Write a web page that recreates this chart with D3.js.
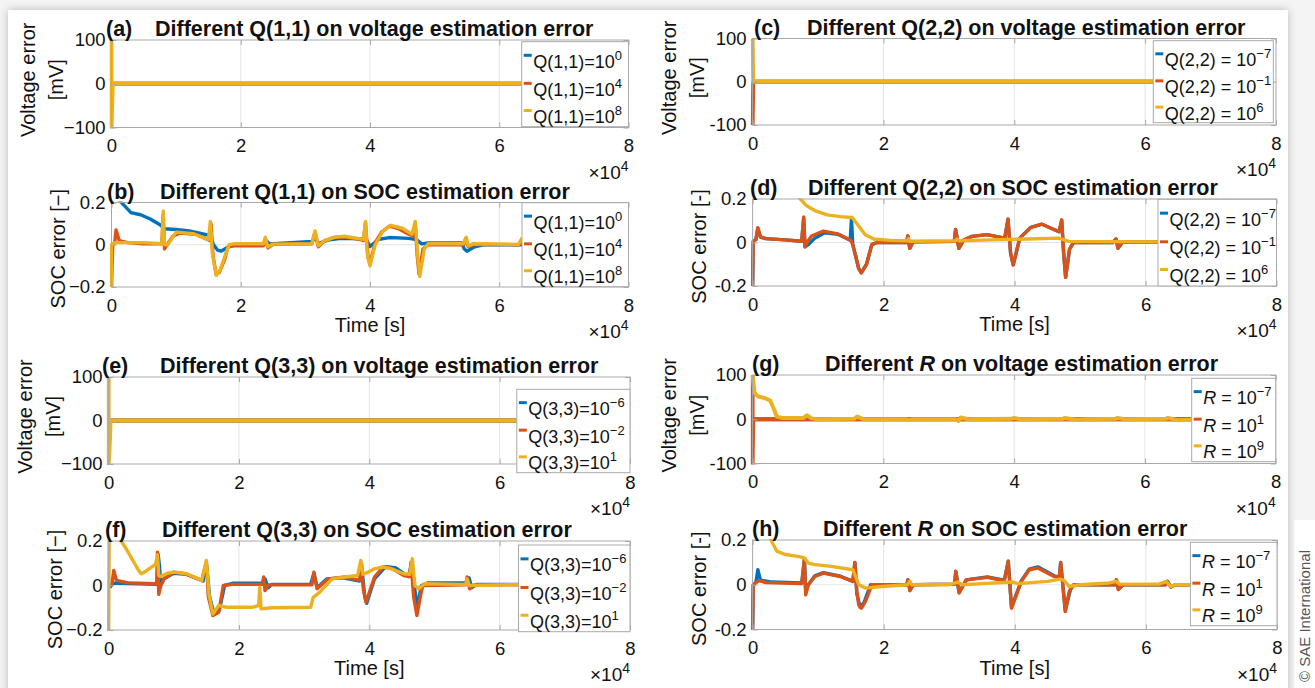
<!DOCTYPE html>
<html>
<head>
<meta charset="utf-8">
<script src="https://cdn.jsdelivr.net/npm/d3@7"></script>
<style>
  body { margin: 0; background: #f4f4f4; }
  svg { display: block; }
  text { font-family: "Liberation Sans", Arial, Helvetica, sans-serif; fill: #111; }
</style>
</head>
<body>
<svg id="fig" width="1315" height="688"></svg>
<script>
// ---- ticks and labels ----
const xTicks = [0, 2, 4, 6, 8];
const voltTicks = [-100, 0, 100];
const socTicks = [-0.2, 0, 0.2];
const voltTickLabelsL = ['\u2212100', '0', '100'];
const voltTickLabelsR = ['-100', '0', '100'];
const socTickLabelsL = ['\u22120.2', '0', '0.2'];
const socTickLabelsR = ['-0.2', '0', '0.2'];
const seriesColors = ['#0072BD', '#D95319', '#EDB120'];

const legQ11 = ['Q(1,1)=10^0', 'Q(1,1)=10^4', 'Q(1,1)=10^8'];
const legQ22 = ['Q(2,2) = 10^\u22127', 'Q(2,2) = 10^\u22121', 'Q(2,2) = 10^6'];
const legQ33 = ['Q(3,3)=10^\u22126', 'Q(3,3)=10^\u22122', 'Q(3,3)=10^1'];
const legR = ['R = 10^\u22127', 'R = 10^1', 'R = 10^9'];

// ---- data: time in 1e4 s ----
// (a) voltage error [mV], Q(1,1)
const voltA_1e0 = [[0, 0], [6.4, 0]];
const voltA_1e4 = [[0, 0], [6.4, 0]];
const voltA_1e8 = [[0, 100], [0, -100], [0.02, 0], [6.4, 0]];

// (b) SOC error, Q(1,1)
const socB_1e0 = [[0,0.2],[0.06,0.24],[0.12,0.21],[0.2,0.185],[0.3,0.152],[0.45,0.142],[0.6,0.122],[0.75,0.095],[0.82,0.076],[1.0,0.072],[1.2,0.065],[1.4,0.052],[1.52,0.044],[1.58,0.0],[1.64,-0.025],[1.7,-0.03],[1.8,-0.012],[1.92,0.004],[2.35,0.005],[2.4,0.018],[2.45,0.004],[3.1,0.016],[3.15,0.034],[3.2,0.006],[3.35,0.022],[3.55,0.03],[3.9,0.028],[3.95,0.02],[4.0,-0.008],[4.14,0.026],[4.3,0.034],[4.6,0.03],[4.72,0.024],[4.8,0.004],[4.9,0.008],[5.42,0.008],[5.46,-0.02],[5.5,-0.031],[5.62,-0.01],[5.75,0.0],[6.4,0.0]];
const socB_1e4 = [[0,-0.2],[0.02,0.0],[0.05,0.01],[0.07,0.07],[0.12,0.02],[0.25,0.01],[0.5,0.005],[0.78,0.005],[0.8,0.14],[0.82,-0.02],[0.86,0.0],[0.95,0.04],[1.05,0.055],[1.3,0.05],[1.45,0.03],[1.52,0.02],[1.54,0.1],[1.57,-0.05],[1.62,-0.14],[1.67,-0.13],[1.75,-0.07],[1.8,-0.01],[1.9,-0.005],[2.35,-0.005],[2.38,0.03],[2.42,-0.015],[2.5,0.002],[3.1,0.005],[3.15,0.06],[3.2,-0.01],[3.3,0.02],[3.45,0.035],[3.6,0.038],[3.85,0.025],[3.9,0.02],[3.93,0.105],[3.97,-0.06],[4.0,-0.09],[4.08,0.01],[4.18,0.06],[4.3,0.088],[4.45,0.075],[4.6,0.05],[4.68,0.04],[4.7,0.105],[4.73,-0.05],[4.76,-0.14],[4.82,-0.02],[4.9,0.0],[5.45,0.0],[5.48,0.03],[5.52,-0.01],[5.6,0.002],[6.3,0.0],[6.35,0.025],[6.4,0.0]];
const socB_1e8 = [[0,-0.2],[0,0.0],[0.05,0.01],[0.5,0.01],[0.78,0.005],[0.8,0.16],[0.82,0.0],[0.87,0.0],[1.0,0.06],[1.27,0.052],[1.45,0.03],[1.5,0.025],[1.53,0.11],[1.56,-0.04],[1.62,-0.145],[1.68,-0.12],[1.76,-0.05],[1.82,0.0],[1.9,0.005],[2.35,0.005],[2.38,0.035],[2.42,-0.01],[2.5,0.003],[3.1,0.005],[3.15,0.065],[3.2,-0.005],[3.3,0.02],[3.45,0.035],[3.6,0.04],[3.85,0.028],[3.9,0.025],[3.93,0.11],[3.96,-0.05],[4.0,-0.1],[4.08,0.0],[4.2,0.065],[4.32,0.092],[4.5,0.078],[4.65,0.05],[4.7,0.11],[4.74,-0.06],[4.77,-0.15],[4.84,-0.02],[4.9,0.005],[5.45,0.005],[5.49,0.035],[5.52,-0.005],[5.6,0.005],[6.3,0.002],[6.35,0.03],[6.4,0.002]];

// (c) voltage error, Q(2,2)
const voltC_1em7 = [[0, 0], [6.4, 0]];
const voltC_1em1 = [[0, -100], [0.01, 0], [6.4, 0]];
const voltC_1e6 = [[0, 100], [0.01, 0], [6.4, 0]];

// (d) SOC error, Q(2,2)
const socD_1em7 = [[0,-0.2],[0.01,0.005],[0.05,0.013],[0.08,0.066],[0.12,0.025],[0.2,0.018],[0.5,0.012],[0.75,0.006],[0.78,0.112],[0.8,-0.02],[0.85,-0.01],[0.95,0.02],[1.1,0.045],[1.3,0.038],[1.49,0.01],[1.51,0.11],[1.53,-0.01],[1.58,-0.07],[1.62,-0.12],[1.66,-0.138],[1.74,-0.1],[1.82,-0.01],[1.9,0.0],[2.35,0.0],[2.37,0.03],[2.4,-0.027],[2.45,0.003],[3.08,0.005],[3.1,0.06],[3.15,-0.027],[3.22,0.01],[3.35,0.028],[3.58,0.036],[3.85,0.02],[3.9,0.107],[3.94,-0.05],[3.98,-0.103],[4.08,0.02],[4.25,0.07],[4.42,0.084],[4.6,0.06],[4.68,0.05],[4.72,0.103],[4.75,-0.05],[4.78,-0.16],[4.84,-0.03],[4.9,0.0],[5.5,0.0],[5.55,0.016],[5.58,-0.027],[5.65,0.002],[6.2,0.002],[6.25,0.012],[6.4,0.0]];
const socD_1em1 = [[0,-0.2],[0.01,0.005],[0.05,0.013],[0.08,0.068],[0.12,0.025],[0.2,0.018],[0.5,0.012],[0.75,0.006],[0.78,0.117],[0.8,-0.02],[0.83,0.0],[0.9,0.03],[1.08,0.052],[1.3,0.04],[1.5,0.01],[1.53,-0.01],[1.58,-0.07],[1.62,-0.12],[1.66,-0.14],[1.74,-0.1],[1.82,-0.01],[1.9,0.0],[2.35,0.0],[2.37,0.03],[2.4,-0.027],[2.45,0.003],[3.08,0.005],[3.1,0.06],[3.15,-0.027],[3.22,0.01],[3.35,0.028],[3.58,0.036],[3.85,0.02],[3.9,0.107],[3.94,-0.05],[3.98,-0.103],[4.08,0.02],[4.25,0.07],[4.42,0.084],[4.6,0.06],[4.68,0.05],[4.72,0.103],[4.75,-0.05],[4.78,-0.16],[4.84,-0.03],[4.9,0.0],[5.5,0.0],[5.55,0.016],[5.58,-0.027],[5.65,0.002],[6.2,0.002],[6.25,0.012],[6.4,0.0]];
const socD_1e6 = [[0.6,0.26],[0.73,0.2],[0.82,0.17],[0.95,0.147],[1.14,0.127],[1.34,0.119],[1.52,0.115],[1.62,0.076],[1.72,0.036],[1.85,0.016],[2.1,0.01],[2.36,0.008],[2.38,0.018],[2.4,0.006],[3.1,0.008],[3.12,0.016],[3.15,0.008],[3.65,0.012],[4.2,0.016],[4.67,0.02],[4.83,0.005],[5.5,0.004],[6.4,0.003]];

// (e) voltage error, Q(3,3)
const voltE_1em6 = [[0, 0], [6.4, 0]];
const voltE_1em2 = [[0, 0], [6.4, 0]];
const voltE_1e1 = [[0, 100], [0, -100], [0.02, -45], [0.03, 0], [6.4, 0]];

// (f) SOC error, Q(3,3)
const socF_1em6 = [[0,0.0],[0.03,-0.005],[0.06,0.01],[0.2,0.01],[0.5,0.008],[0.74,0.005],[0.76,0.14],[0.78,0.09],[0.8,0.0],[0.85,0.03],[1.0,0.055],[1.2,0.05],[1.45,0.02],[1.5,0.1],[1.55,-0.05],[1.62,-0.13],[1.7,-0.11],[1.78,0.0],[1.9,0.01],[2.35,0.01],[2.4,0.03],[2.45,-0.01],[2.5,0.005],[3.1,0.005],[3.15,0.055],[3.2,-0.01],[3.35,0.03],[3.6,0.035],[3.85,0.02],[3.88,0.1],[3.93,-0.05],[3.96,-0.08],[4.08,0.03],[4.25,0.085],[4.4,0.08],[4.6,0.04],[4.65,0.1],[4.7,-0.02],[4.73,-0.1],[4.8,0.0],[4.9,0.012],[5.5,0.012],[5.53,0.035],[5.57,-0.01],[5.65,0.005],[6.3,0.005],[6.35,0.02],[6.4,0.005]];
const socF_1em2 = [[0,0.0],[0.05,0.005],[0.08,0.068],[0.12,0.023],[0.3,0.012],[0.74,0.008],[0.75,0.15],[0.77,-0.04],[0.8,0.0],[0.85,0.03],[1.0,0.06],[1.17,0.053],[1.43,0.023],[1.5,0.105],[1.53,-0.05],[1.6,-0.135],[1.69,-0.12],[1.76,0.0],[1.9,0.005],[2.36,0.005],[2.38,0.038],[2.4,-0.023],[2.45,0.003],[3.12,0.003],[3.15,0.06],[3.2,-0.015],[3.37,0.03],[3.63,0.038],[3.85,0.023],[3.87,0.105],[3.91,-0.02],[3.95,-0.075],[4.08,0.038],[4.21,0.083],[4.34,0.078],[4.53,0.045],[4.62,0.04],[4.64,0.105],[4.68,-0.05],[4.73,-0.135],[4.79,-0.04],[4.82,0.0],[5.48,0.003],[5.5,0.038],[5.54,-0.015],[5.6,0.003],[6.33,0.003],[6.35,0.023],[6.4,0.003]];
const socF_1e1 = [[0,-0.25],[0.01,0.3],[0.15,0.22],[0.27,0.165],[0.46,0.068],[0.5,0.053],[0.55,0.06],[0.66,0.083],[0.72,0.095],[0.75,0.138],[0.77,0.045],[0.8,0.04],[0.9,0.055],[1.0,0.06],[1.2,0.053],[1.43,0.023],[1.5,0.113],[1.54,-0.04],[1.6,-0.128],[1.69,-0.09],[1.82,-0.098],[2.2,-0.098],[2.3,-0.09],[2.32,-0.008],[2.34,-0.105],[2.5,-0.1],[3.1,-0.098],[3.14,-0.053],[3.24,-0.03],[3.43,0.03],[3.63,0.038],[3.82,0.045],[3.87,0.113],[3.9,0.05],[3.98,0.06],[4.08,0.075],[4.21,0.083],[4.34,0.075],[4.53,0.053],[4.62,0.05],[4.66,0.12],[4.7,0.0],[4.76,-0.015],[4.85,0.008],[5.48,0.005],[5.5,0.03],[5.53,0.0],[6.33,0.005],[6.35,0.015],[6.4,0.005]];

// (g) voltage error, R
const voltG_1em7 = [[0, 0], [6.9, 0]];
const voltG_1e1 = [[0, 100], [0, -100], [0.01, 0], [6.9, 0]];
const voltG_1e9 = [[0,100],[0.03,60],[0.08,52],[0.2,47],[0.27,42],[0.32,25],[0.37,6],[0.45,3],[0.78,3],[0.83,9],[0.9,2],[1.0,0],[1.55,1],[1.6,6],[1.7,0],[2.35,0],[2.38,-2],[2.45,0],[3.1,0],[3.15,-4],[3.18,4],[3.3,0],[3.95,1],[4.0,3],[4.1,0],[4.75,1],[4.77,3],[4.96,-1],[5.1,0],[5.55,1],[5.58,3],[5.7,0],[6.32,1],[6.35,3],[6.5,-2],[6.9,0]];

// (h) SOC error, R
const socH_1em7 = [[0,-0.2],[0.01,0.0],[0.05,0.01],[0.08,0.067],[0.12,0.02],[0.3,0.012],[0.75,0.008],[0.79,0.112],[0.81,-0.03],[0.85,0.0],[0.95,0.04],[1.08,0.054],[1.34,0.038],[1.53,0.015],[1.56,0.1],[1.59,-0.04],[1.64,-0.1],[1.7,-0.08],[1.8,0.0],[2.35,0.0],[2.37,0.022],[2.4,-0.025],[2.45,0.0],[3.08,0.003],[3.1,0.06],[3.15,-0.035],[3.26,0.022],[3.58,0.035],[3.84,0.02],[3.9,0.105],[3.95,-0.1],[4.1,0.018],[4.22,0.07],[4.35,0.08],[4.6,0.04],[4.68,0.035],[4.7,0.1],[4.77,-0.115],[4.85,-0.02],[4.9,0.0],[5.53,0.0],[5.55,0.022],[5.58,-0.02],[5.65,0.0],[6.3,0.0],[6.33,0.015],[6.38,-0.01],[6.45,0.0],[6.8,0.0]];
const socH_1e1 = [[0,-0.2],[0.01,0.0],[0.05,0.01],[0.1,0.018],[0.2,0.01],[0.75,0.005],[0.79,0.112],[0.81,-0.045],[0.85,0.0],[0.95,0.037],[1.08,0.052],[1.34,0.037],[1.53,0.015],[1.56,0.1],[1.59,-0.03],[1.62,-0.09],[1.66,-0.105],[1.72,-0.075],[1.82,0.0],[2.35,0.0],[2.37,0.022],[2.4,-0.027],[2.45,0.0],[3.08,0.003],[3.1,0.06],[3.15,-0.037],[3.26,0.022],[3.58,0.033],[3.84,0.018],[3.9,0.105],[3.95,-0.105],[4.1,0.015],[4.22,0.067],[4.35,0.075],[4.6,0.037],[4.68,0.033],[4.7,0.1],[4.77,-0.12],[4.83,-0.03],[4.9,0.0],[5.53,0.0],[5.55,0.022],[5.58,-0.022],[5.65,0.0],[6.3,0.0],[6.33,0.015],[6.38,-0.01],[6.45,0.0],[6.8,0.0]];
const socH_1e9 = [[0.2,0.25],[0.28,0.2],[0.37,0.15],[0.5,0.135],[0.69,0.127],[0.79,0.12],[0.85,0.097],[0.95,0.09],[1.2,0.082],[1.53,0.067],[1.56,0.045],[1.62,0.0],[1.72,-0.015],[1.98,-0.008],[2.36,0.0],[2.4,0.015],[2.43,0.0],[3.0,0.0],[3.13,0.012],[3.2,0.0],[3.5,0.005],[3.97,0.012],[4.05,0.005],[4.5,0.015],[4.7,0.025],[4.75,0.02],[4.83,-0.008],[5.0,0.0],[5.44,0.008],[5.55,0.015],[5.6,0.003],[6.2,0.003],[6.31,0.015],[6.38,-0.008],[6.45,0.0],[6.8,0.0]];

// ---- layout ----
const svg = d3.select('#fig');

const defs = svg.append('defs');
const sh = defs.append('filter').attr('id', 'shadow').attr('x', -0.05).attr('y', -0.05).attr('width', 1.1).attr('height', 1.1);
sh.append('feGaussianBlur').attr('in', 'SourceAlpha').attr('stdDeviation', 4);
sh.append('feComponentTransfer').append('feFuncA').attr('type', 'linear').attr('slope', 0.25);
const mrg = sh.append('feMerge');
mrg.append('feMergeNode');
mrg.append('feMergeNode').attr('in', 'SourceGraphic');

svg.append('rect').attr('width', 1315).attr('height', 688).attr('fill', '#f4f4f4');
svg.append('rect').attr('x', 1294).attr('y', 520).attr('width', 21).attr('height', 168).attr('fill', '#fff');
svg.append('rect').attr('x', 8).attr('y', 10).attr('width', 1280).attr('height', 700)
  .attr('fill', '#fff').attr('filter', 'url(#shadow)');

const panels = [
  { id: 'a', x0: 111.5, x1: 628.5, top: 40, bottom: 127.5, kind: 'v', side: 'L',
    title: 'Different Q(1,1) on voltage estimation error', lx: 106, tx: 155,
    series: [voltA_1e0, voltA_1e4, voltA_1e8], legend: legQ11, box: [521.7, 41.7, 628.5, 126.7], xlabel: false },
  { id: 'b', x0: 111.5, x1: 628.5, top: 202.5, bottom: 287, kind: 's', side: 'L',
    title: 'Different Q(1,1) on SOC estimation error', lx: 107, tx: 160,
    series: [socB_1e0, socB_1e4, socB_1e8], legend: legQ11, box: [522, 202.7, 628.5, 286.7], xlabel: true },
  { id: 'c', x0: 752.6, x1: 1276, top: 38.5, bottom: 125, kind: 'v', side: 'R',
    title: 'Different Q(2,2) on voltage estimation error', lx: 754, tx: 807,
    series: [voltC_1em7, voltC_1em1, voltC_1e6], legend: legQ22, box: [1153.3, 40.7, 1273.3, 122.7], xlabel: false },
  { id: 'd', x0: 752.6, x1: 1276.5, top: 199, bottom: 286, kind: 's', side: 'R',
    title: 'Different Q(2,2) on SOC estimation error', lx: 750, tx: 808,
    series: [socD_1em7, socD_1em1, socD_1e6], legend: legQ22, box: [1158, 199.3, 1276.5, 286], xlabel: true },
  { id: 'e', x0: 108.6, x1: 630, top: 377, bottom: 464, kind: 'v', side: 'L',
    title: 'Different Q(3,3) on voltage estimation error', lx: 102, tx: 160,
    series: [voltE_1em6, voltE_1em2, voltE_1e1], legend: legQ33, box: [516.8, 389.3, 630, 472.7], xlabel: false },
  { id: 'f', x0: 108.6, x1: 630, top: 541, bottom: 630, kind: 's', side: 'L',
    title: 'Different Q(3,3) on SOC estimation error', lx: 105, tx: 162,
    series: [socF_1em6, socF_1em2, socF_1e1], legend: legQ33, box: [518.5, 545, 630, 631.7], xlabel: true },
  { id: 'g', x0: 752.6, x1: 1275.7, top: 375, bottom: 463.5, kind: 'v', side: 'R',
    title: 'Different *R* on voltage estimation error', lx: 752, tx: 825,
    series: [voltG_1em7, voltG_1e1, voltG_1e9], legend: legR, box: [1191.7, 378.3, 1275.7, 461.7], xlabel: false },
  { id: 'h', x0: 752.6, x1: 1277, top: 540, bottom: 629.5, kind: 's', side: 'R',
    title: 'Different *R* on SOC estimation error', lx: 752, tx: 823,
    series: [socH_1em7, socH_1e1, socH_1e9], legend: legR, box: [1190.4, 542.3, 1277, 625.7], xlabel: true }
];

const boxColor = '#a9a9a9';
const gridColor = '#e4e4e4';

function drawPanel(p) {
  const x = d3.scaleLinear().domain([0, 8]).range([p.x0, p.x1]);
  const yDom = p.kind === 'v' ? [-100, 100] : [-0.2, 0.2];
  const yTicks = p.kind === 'v' ? voltTicks : socTicks;
  const yLabels = p.kind === 'v'
    ? (p.side === 'L' ? voltTickLabelsL : voltTickLabelsR)
    : (p.side === 'L' ? socTickLabelsL : socTickLabelsR);
  const y = d3.scaleLinear().domain(yDom).range([p.bottom, p.top]);
  const g = svg.append('g');

  // grid
  g.selectAll('line.gx').data(xTicks.slice(1, -1)).join('line')
    .attr('x1', d => x(d)).attr('x2', d => x(d)).attr('y1', p.top).attr('y2', p.bottom)
    .attr('stroke', gridColor);
  g.selectAll('line.gy').data(yTicks.slice(1, -1)).join('line')
    .attr('y1', d => y(d)).attr('y2', d => y(d)).attr('x1', p.x0).attr('x2', p.x1)
    .attr('stroke', gridColor);

  // lines
  defs.append('clipPath').attr('id', 'clip-' + p.id).append('rect')
    .attr('x', p.x0 - 2).attr('y', p.top - 1).attr('width', p.x1 - p.x0 + 4).attr('height', p.bottom - p.top + 2);
  const line = d3.line().x(d => x(d[0])).y(d => y(d[1]));
  g.append('g').attr('clip-path', `url(#clip-${p.id})`)
    .selectAll('path').data(p.series).join('path')
    .attr('d', line)
    .attr('fill', 'none')
    .attr('stroke', (d, i) => seriesColors[i])
    .attr('stroke-width', p.kind === 'v' ? 4 : 3.4)
    .attr('stroke-linejoin', 'round');

  // axes
  g.append('g').attr('transform', `translate(0,${p.bottom})`)
    .call(d3.axisBottom(x).tickValues(xTicks).tickSize(-5).tickPadding(11.5).tickFormat(d3.format('d')));
  g.append('g').attr('transform', `translate(${p.x0},0)`)
    .call(d3.axisLeft(y).tickValues(yTicks).tickSize(-5).tickPadding(6).tickFormat((d, i) => yLabels[i]));
  g.append('g').attr('transform', `translate(0,${p.top})`)
    .call(d3.axisTop(x).tickValues(xTicks).tickSize(-5).tickFormat(''));
  g.append('g').attr('transform', `translate(${p.x1},0)`)
    .call(d3.axisRight(y).tickValues(yTicks).tickSize(-5).tickFormat(''));
  g.selectAll('.domain').remove();
  g.selectAll('.tick line').attr('stroke', boxColor);
  g.selectAll('.tick text').attr('font-size', 18.5).attr('fill', '#1a1a1a')
    .attr('font-family', '"Liberation Sans", Arial, sans-serif');

  g.append('rect').attr('x', p.x0).attr('y', p.top).attr('width', p.x1 - p.x0).attr('height', p.bottom - p.top)
    .attr('fill', 'none').attr('stroke', boxColor);

  // x10^4 multiplier
  const mult = g.append('text').attr('x', p.x1).attr('y', p.bottom + 51).attr('text-anchor', 'end').attr('font-size', 19);
  mult.append('tspan').text('\u00d710');
  mult.append('tspan').attr('dy', -8).attr('font-size', 14).text('4');

  if (p.xlabel) {
    g.append('text').attr('x', (p.x0 + p.x1) / 2).attr('y', p.bottom + 45)
      .attr('text-anchor', 'middle').attr('font-size', 20).text('Time [s]');
  }

  // y label
  const cy = (p.top + p.bottom) / 2;
  if (p.kind === 'v') {
    const ly = cy - 4;
    [['Voltage error', -83.5], ['[mV]', -56]].forEach(([s, off]) => {
      g.append('text').attr('transform', `translate(${p.x0 + off},${ly}) rotate(-90)`)
        .attr('text-anchor', 'middle').attr('dy', '0.35em').attr('font-size', 20).text(s);
    });
  } else {
    g.append('text').attr('transform', `translate(${p.x0 - 54},${cy + 4}) rotate(-90)`)
      .attr('text-anchor', 'middle').attr('dy', '0.35em').attr('font-size', 20)
      .text(p.side === 'L' ? 'SOC error [\u2212]' : 'SOC error [-]');
  }

  // title
  g.append('text').attr('x', p.lx).attr('y', p.top - 4).attr('font-weight', 'bold').attr('font-size', 21.5)
    .text(`(${p.id})`);
  const tt = g.append('text').attr('x', p.tx).attr('y', p.top - 4).attr('font-weight', 'bold').attr('font-size', 21.5);
  p.title.split('*').forEach((seg, i) => {
    tt.append('tspan').attr('font-style', i % 2 ? 'italic' : null).text(seg);
  });

  // legend
  const [bx0, by0, bx1, by1] = p.box;
  const lg = g.append('g');
  lg.append('rect').attr('x', bx0).attr('y', by0).attr('width', bx1 - bx0).attr('height', by1 - by0)
    .attr('fill', '#fff').attr('stroke', boxColor);
  const fr = [0.16, 0.49, 0.81];
  p.legend.forEach((lab, i) => {
    const yy = by0 + (by1 - by0) * fr[i];
    lg.append('line').attr('x1', bx0 + 2).attr('x2', bx0 + 10).attr('y1', yy).attr('y2', yy)
      .attr('stroke', seriesColors[i]).attr('stroke-width', 3);
    const t = lg.append('text').attr('x', bx0 + 11.5).attr('y', yy + 12.5).attr('font-size', 18);
    const [base, sup] = lab.split('^');
    if (base.startsWith('R')) {
      t.append('tspan').attr('font-style', 'italic').text('R');
      t.append('tspan').text(base.slice(1));
    } else {
      t.append('tspan').text(base);
    }
    t.append('tspan').attr('dy', -8).attr('font-size', 13).text(sup);
  });
}

panels.forEach(drawPanel);

// copyright
svg.append('text').attr('transform', 'translate(1305,616) rotate(-90)')
  .attr('text-anchor', 'middle').attr('dy', '0.35em').attr('font-size', 15)
  .style('fill', '#555').text('\u00a9 SAE International');
</script>
</body>
</html>
